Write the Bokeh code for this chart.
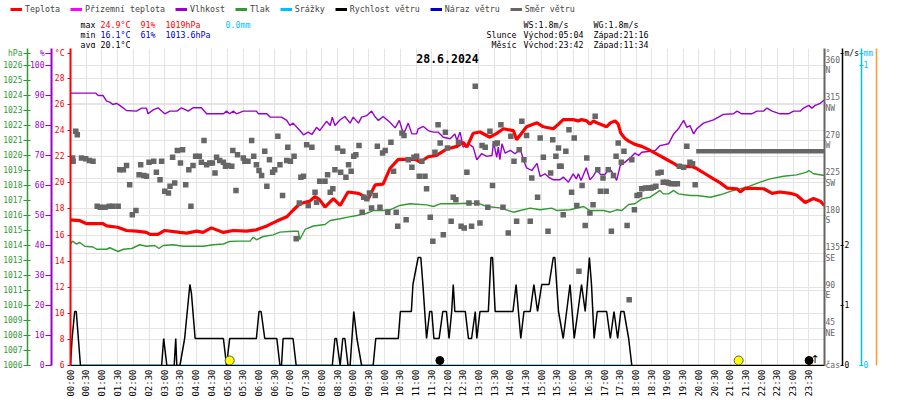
import math
from bokeh.plotting import figure
from bokeh.layouts import column
from bokeh.models import Range1d, LinearAxis, FixedTicker, Label, Legend, LegendItem, Grid
from bokeh.core.properties import value
from bokeh.embed import file_html
from bokeh.resources import INLINE

# ---------------- data (time in minutes since 00:00) ----------------
temp_t = [0,18,31,62,69,90,107,126,145,152,167,180,209,222,241,253,269,292,311,336,
          355,375,394,413,425,438,457,467,476,486,502,515,530,550,569,582,597,610,626,658,
          668,683,699,719,738,750,757,769,782,801,814,827,846,852,871,891,903,922,932,941,
          960,970,976,986,992,999,1005,1018,1024,1031,1040,1046,1051,1059,1066,1078,1091,1104,1120,1136,
          1152,1161,1187,1196,1212,1228,1241,1254,1273,1279,1289,1324,1340,1355,1375,1387,1403,1419,1432,1440]
temp_v = [17.17,17.1,16.87,16.87,16.7,16.6,16.35,16.3,16.2,16.05,16.05,16.35,16.2,16.15,16.3,16.2,16.55,16.2,16.35,16.3,
          16.4,16.7,17.07,17.4,17.9,18.4,18.6,18.95,18.7,18.15,18.8,18.27,19.3,19.2,18.8,19.85,19.9,21.1,21.8,21.8,
          21.6,22.0,22.1,22.6,22.8,23.1,22.75,23.8,23.9,23.5,23.8,24.15,24.0,23.3,24.3,24.6,24.3,24.15,24.5,24.85,
          24.85,24.75,24.85,24.75,24.5,24.75,24.6,24.4,24.3,24.6,24.75,24.5,23.8,23.4,23.2,22.95,22.8,22.55,22.2,21.85,
          21.5,21.25,21.25,21.1,20.7,20.3,20.0,19.6,19.55,19.3,19.6,19.55,19.2,19.3,19.2,19.05,18.5,18.8,18.6,18.25]

hum_t = [0,48,53,62,69,75,81,88,94,107,126,136,145,148,158,167,180,190,203,212,
         225,234,250,260,292,298,304,311,317,330,355,359,375,381,403,413,419,425,435,445,
         454,461,470,476,489,496,500,505,515,524,534,540,550,556,566,575,582,588,597,610,
         620,628,636,645,652,661,664,674,683,693,702,712,725,734,738,744,750,760,769,776,
         785,795,805,808,814,817,820,824,830,840,849,859,865,871,881,891,897,906,913,922,
         935,941,951,960,966,970,975,985,992,999,1005,1012,1021,1029,1037,1043,1050,1059,1069,1078,
         1085,1091,1107,1117,1126,1142,1152,1161,1171,1177,1183,1190,1196,1209,1228,1247,1266,1273,1282,1301,
         1311,1324,1330,1340,1355,1371,1381,1394,1400,1410,1416,1422,1432,1440]
hum_v = [90.8,90.8,90,90,88.1,87.8,87,87.4,86.7,85,84.8,85.8,85.8,83.9,85.2,85.9,83.9,84.8,84.8,85.9,
         84.8,85.9,85.9,83.9,83.9,84.8,83.9,84.8,83.9,84.8,84.8,83.9,83.9,82.8,82.8,81.7,80,80.8,78.9,76.9,
         77.8,77,79.4,78.3,81.4,80,82.8,80,81.9,83,80.8,82.8,80.8,82.8,83.3,84.8,82.8,81.7,83,81.1,
         79.2,81.7,77,80.8,77.2,77.2,78.9,79.7,78.3,77.8,77.8,76.1,75.6,77.2,75,77.8,72.8,73.9,72.8,68.6,
         70.6,69.7,70,74.4,69.4,72.8,68.6,73.9,70.8,71.7,70.6,72.2,68.6,65.9,65,67.4,63,63.9,62.8,61.9,
         61.9,62.8,61.1,63.9,62.2,63.9,61.7,65.9,61.9,63.3,65.2,63.7,63.7,65.9,63.7,61.7,66.7,67.8,69.2,70.8,
         70,71.1,71.4,71.7,73.3,73.9,77.2,78.9,81.7,79.4,80,77.2,78.9,80.8,81.9,83.7,83.9,84.8,83.9,83.9,
         84.8,84.8,85.8,84.8,83.9,83.9,84.8,84.8,85.8,86.7,85.8,86.7,87.4,88.6]

pres_t = [0,4,11,18,27,43,50,69,75,91,101,117,132,145,161,169,177,196,215,234,
          253,273,292,304,320,343,349,355,368,387,400,425,435,438,448,464,486,496,515,530,
          547,566,578,597,610,629,648,680,693,706,738,757,782,795,820,846,859,878,897,919,
          929,954,980,992,1018,1031,1043,1053,1066,1078,1091,1107,1126,1132,1142,1152,1161,1183,1196,1222,
          1241,1266,1292,1317,1336,1362,1387,1406,1410,1419,1440]
pres_v = [1014.1,1014.29,1014.1,1014.2,1013.95,1013.9,1013.75,1013.75,1013.85,1013.6,1013.75,1013.8,1014.05,1013.95,1014.0,1013.8,1014.0,1014.05,1013.95,1013.95,
          1013.95,1014.05,1014.1,1014.27,1014.29,1014.29,1014.55,1014.38,1014.6,1014.71,1014.89,1014.95,1014.95,1014.4,1015.07,1015.3,1015.4,1015.67,1015.78,1015.89,
          1016.0,1016.15,1016.33,1016.33,1016.38,1016.67,1016.78,1016.71,1016.6,1016.78,1016.78,1016.82,1016.78,1016.6,1016.51,1016.22,1016.33,1016.49,1016.38,1016.49,
          1016.33,1016.38,1016.6,1016.33,1016.33,1016.22,1016.38,1016.33,1016.73,1016.78,1017.11,1017.22,1017.67,1017.44,1017.44,1017.67,1017.44,1017.33,1017.33,1017.22,
          1017.38,1017.67,1017.89,1018.22,1018.44,1018.62,1018.71,1018.89,1019.0,1018.78,1018.67]

ws_t = [0,3,8,11,15,19,174,178,184,198,201,203,209,218,228,231,238,292,298,304,
        355,360,364,371,394,400,403,406,425,431,500,505,508,515,520,524,530,534,541,547,
        556,578,583,626,630,651,654,664,669,673,680,686,690,694,704,711,718,723,728,731,
        734,754,760,766,773,776,782,798,803,806,811,845,851,860,866,878,885,892,900,914,
        922,925,932,941,954,962,976,983,991,995,1000,1006,1024,1031,1038,1045,1051,1057,1066,1072,1440]
ws_v = [0,0.45,0.9,0.9,0.45,0,0,0.45,0,0,0.45,0,0,0.45,1.35,1.2,0.45,0.45,0,0.45,
        0.45,0.9,0.9,0.45,0.45,0,0,0.45,0.45,0,0,0.45,0.45,0,0.45,0.45,0,0,0.9,0.45,
        0,0,0.45,0.45,0.9,0.9,1.35,1.8,1.8,1.35,0.45,0.9,0.9,0.45,0.45,0.9,0.9,0.45,0.9,1.35,
        0.9,0.9,0.45,0.45,0.9,0.45,0.9,0.9,1.8,1.8,0.9,0.9,1.35,0.45,0.9,0.9,1.35,0.9,1.35,1.35,
        1.8,1.8,0.9,0.45,1.35,0.45,1.35,0.9,1.8,1.35,0.45,0.9,0.9,0.45,0.9,0.45,0.9,0.9,0.45,0,0]

dir_t = [4,5,10,13,21,29,36,43,51,57,66,74,81,91,94,101,107,113,118,125,
         131,134,140,145,150,159,164,171,174,180,187,190,195,199,204,210,214,220,226,230,
         234,239,246,250,255,260,266,271,276,279,285,292,296,301,308,310,316,319,330,333,
         339,346,350,355,360,365,371,375,380,386,390,396,400,405,413,415,420,427,431,437,
         440,445,451,454,461,467,470,476,
         486,491,496,501,505,510,516,520,526,531,536,541,545,551,557,560,566,571,575,582,
         586,591,596,601,606,612,617,622,625,633,637,641,645,652,656,661,666,671,677,680,
         687,692,696,702,706,712,716,720,727,731,736,741,746,752,757,761,766,773,776,782,
         786,792,797,801,806,811,815,822,826,836,841,847,852,857,862,866,871,878,881,892,
         897,903,912,917,921,927,932,934,
         937,941,946,952,957,962,967,971,977,983,986,992,998,1002,1007,1012,1017,1023,1027,1033,
         1037,1042,1046,1052,1057,1063,1067,1072,1077,1082,1087,1091,1098,1104,1109,1113,1118,1122,1128,1132,
         1138,1142,1147,1153,1159,1163,1171,1177,1183,1188,1193]
dir_v = [249,245,281,277,249,248,246,245,191,190,190,191,191,191,235,235,240,217,181,186,
         229,241,228,227,244,245,232,223,245,209,207,215,250,219,258,243,259,217,235,191,
         240,251,251,244,270,241,243,243,231,250,246,244,239,240,239,258,210,253,249,245,
         245,270,251,241,234,228,257,215,247,232,235,275,241,204,246,262,245,251,152,195,
         226,227,265,192,262,208,196,221,
         221,229,208,212,235,261,232,257,226,241,233,251,253,264,184,202,200,207,189,204,
         263,190,255,258,184,268,233,184,167,279,276,175,247,238,250,251,227,245,227,212,
         178,149,256,289,267,157,280,261,173,202,199,268,167,165,232,195,167,335,195,171,
         264,262,190,281,216,266,267,289,190,159,275,245,173,259,293,247,276,173,225,202,
         273,250,161,231,271,251,261,239,
         239,181,257,283,208,273,192,113,216,168,249,183,193,299,235,209,225,209,235,161,
         228,251,267,244,257,168,79,247,187,204,205,212,213,213,213,214,215,231,232,220,
         220,219,218,218,218,239,238,263,244,242,217]

calm_t = [1195, 1440]          # constant direction while calm
calm_v = [257, 257]
rain_t = [0, 1072]
rain_v = [0.0, 0.0]
sun_t = [304, 1276]            # sunrise 05:04, sunset 21:16
moonset_t = [694]              # 11:34
moonrise_t = [1422]            # 23:42

temp_ticks = [6, 8, 10, 12, 14, 16, 18, 20, 22, 24, 26, 28]
hum_ticks = [0, 10, 20, 30, 40, 50, 60, 70, 80, 90, 100]
pres_ticks = [1006, 1007, 1008, 1009, 1010, 1011, 1012, 1013, 1014, 1015, 1016,
              1017, 1018, 1019, 1020, 1021, 1022, 1023, 1024, 1025, 1026]
dir_ticks = [45, 90, 135, 180, 225, 270, 315, 360]
dir_labels = ["45\nNE", "90\n E", "135\nSE", "180\n S", "225\nSW", "270\n W", "315\nNW", "360\n N"]
wind_ticks = [0, 1, 2]
rain_ticks = [0, 1]
x_ticks = list(range(0, 1440, 30))
x_labels = ["00:00","00:30","01:00","01:30","02:00","02:30","03:00","03:30","04:00","04:30",
            "05:00","05:30","06:00","06:30","07:00","07:30","08:00","08:30","09:00","09:30",
            "10:00","10:30","11:00","11:30","12:00","12:30","13:00","13:30","14:00","14:30",
            "15:00","15:30","16:00","16:30","17:00","17:30","18:00","18:30","19:00","19:30",
            "20:00","20:30","21:00","21:30","22:00","22:30","23:00","23:30"]

legend_names = ["Teplota", "Přízemní teplota", "Vlhkost", "Tlak", "Srážky",
                "Rychlost větru", "Náraz větru", "Směr větru"]
legend_colors = ["#ff0000", "#ff00ff", "#9900cc", "#339933", "#00bfff",
                 "#000000", "#0000cc", "#666666"]

MONO = "DejaVu Sans Mono"
NAN = float("nan")

# ================= header strip (legend + statistics) =================
HH = 48
header = figure(width=900, height=HH, output_backend="svg", toolbar_location=None,
                x_range=Range1d(0, 900), y_range=Range1d(HH, 0),
                x_axis_type=None, y_axis_type=None,
                min_border_left=0, min_border_right=0, min_border_top=0, min_border_bottom=0)
header.frame_align = False
header.outline_line_color = None
header.background_fill_color = "white"
header.border_fill_color = "white"

items = []
for name, col in zip(legend_names, legend_colors):
    r = header.line(x=[NAN], y=[NAN], line_color=col, line_width=3)   # legend proxy only
    items.append(LegendItem(label=name, renderers=[r]))
legend = Legend(items=items, orientation="horizontal", location=(10, HH - 9 - 5),
                glyph_width=12, glyph_height=10, label_standoff=3, spacing=10, padding=0, margin=0,
                border_line_color=None, background_fill_alpha=0, label_width=0, label_height=10,
                label_text_font=MONO, label_text_font_size="8.3px")
header.add_layout(legend)

def htext(txt, x, y, color="#000000"):
    header.add_layout(Label(x=x, y=y, text=txt, text_color=color, text_font=MONO,
                            text_font_size="8.3px", text_baseline="middle", text_align="left"))

htext("max", 80, 24); htext("24.9°C", 100, 24, "#ff0000"); htext("91%", 140, 24, "#ff0000")
htext("1019hPa", 165, 24, "#ff0000"); htext("0.0mm", 225, 24, "#00bfff")
htext("min", 80, 34); htext("16.1°C", 100, 34, "#0000cc"); htext("61%", 140, 34, "#0000cc")
htext("1013.6hPa", 165, 34, "#0000cc")
htext("avg", 80, 44); htext("20.1°C", 100, 44)
htext("WS:1.8m/s", 523, 24); htext("WG:1.8m/s", 593, 24)
htext("Slunce", 486, 34); htext("Východ:05:04", 523, 34); htext("Západ:21:16", 593, 34)
htext("Měsíc", 491, 44); htext("Východ:23:42", 523, 44); htext("Západ:11:34", 593, 44)

# ================= main chart =================
W, H = 900, 400 - HH
FL, FR, FT, FB = 70, 76, 0, 35
FW = W - FL - FR
FH = H - FT - FB          # 317 px
T_PX = 13.045             # px per degC

p = figure(width=W, height=H, output_backend="svg", toolbar_location=None,
           x_range=Range1d(0, 1440), y_range=Range1d(6, 6 + FH / T_PX),
           min_border_left=FL, min_border_right=FR, min_border_top=FT, min_border_bottom=FB)
p.frame_align = False
p.outline_line_color = None
p.background_fill_color = "white"
p.border_fill_color = "white"
p.extra_y_ranges = {
    "hum": Range1d(0, FH / 3.0),
    "pres": Range1d(1006, 1006 + FH / 15.0),
    "dir": Range1d(0, FH * 1.2),
    "wind": Range1d(0, FH / 60.0),
    "rain": Range1d(0, FH / 300.0),
}

# value on each scale at the row of the axis titles (5 px below the frame top)
TITLE_DY = FH - 5
t_title = 6 + TITLE_DY / T_PX
h_title = TITLE_DY / 3.0
p_title = 1006 + TITLE_DY / 15.0
d_title = TITLE_DY * 1.2
w_title = TITLE_DY / 60.0
r_title = TITLE_DY / 300.0

GRID = "#e4e4e4"

def style_axis(ax, color, ticks, labels=None, tick_out=3, tick_in=0, standoff=2,
               font_size="8px", line_width=1.5):
    ax.ticker = FixedTicker(ticks=ticks, minor_ticks=[])
    ax.axis_line_color = color
    ax.axis_line_width = line_width
    ax.major_tick_line_color = color
    ax.major_tick_out = tick_out
    ax.major_tick_in = tick_in
    ax.minor_tick_line_color = None
    ax.major_label_text_color = color
    ax.major_label_text_font = MONO
    ax.major_label_text_font_size = font_size
    ax.major_label_standoff = standoff
    if labels is not None:
        ax.major_label_overrides = dict(zip(ticks, labels))

# x axis
xa = p.xaxis[0]
style_axis(xa, "#000000", x_ticks, x_labels, tick_out=0, standoff=4, font_size="9px", line_width=1)
xa.major_label_orientation = math.pi / 2
p.xgrid.grid_line_color = GRID

# left axes: temperature (inner), humidity, pressure (outer)
ta = p.yaxis[0]
style_axis(ta, "#ff0000", temp_ticks + [t_title], [str(v) for v in temp_ticks] + ["°C"],
           tick_out=3, standoff=3, line_width=2)
p.ygrid.ticker = FixedTicker(ticks=temp_ticks)
p.ygrid.grid_line_color = GRID

ha = LinearAxis(y_range_name="hum")
style_axis(ha, "#9900cc", hum_ticks + [h_title], [str(v) for v in hum_ticks] + ["%"],
           tick_out=6, standoff=1, line_width=2)
p.add_layout(ha, "left")

pa = LinearAxis(y_range_name="pres")
style_axis(pa, "#339933", pres_ticks + [p_title], [str(v) for v in pres_ticks] + ["hPa"],
           tick_out=4, tick_in=3, standoff=1, line_width=1.5)
p.add_layout(pa, "left")

# right axes: direction, wind speed, rain, (orange)
da = LinearAxis(y_range_name="dir")
style_axis(da, "#666666", [0] + dir_ticks + [d_title], ["čas"] + dir_labels + ["°"],
           tick_out=1, standoff=0, line_width=2)
p.add_layout(da, "right")

wa = LinearAxis(y_range_name="wind")
style_axis(wa, "#000000", wind_ticks + [w_title], [str(v) for v in wind_ticks] + ["m/s"],
           tick_out=1, tick_in=2, standoff=1)
p.add_layout(wa, "right")

ra = LinearAxis(y_range_name="rain")
style_axis(ra, "#00bfff", rain_ticks + [r_title], [str(v) for v in rain_ticks] + ["mm"],
           tick_out=2, tick_in=2, standoff=0)
p.add_layout(ra, "right")

oa = LinearAxis(y_range_name="rain")
style_axis(oa, "#ff9933", [], tick_out=0, standoff=0)
p.add_layout(oa, "right")

p.add_layout(Grid(dimension=1, ticker=FixedTicker(ticks=dir_ticks), y_range_name="dir",
                  grid_line_color=GRID))

# ---------------- series ----------------
p.line(rain_t, rain_v, y_range_name="rain", line_color="#00bfff", line_width=2)
p.line(pres_t, pres_v, y_range_name="pres", line_color="#339933", line_width=1.4)
p.line(hum_t, hum_v, y_range_name="hum", line_color="#9900cc", line_width=1.4)
p.line(temp_t, temp_v, line_color="#ff0000", line_width=3.2)
p.line(ws_t, ws_v, y_range_name="wind", line_color="#000000", line_width=1.5)
p.scatter(dir_t, dir_v, y_range_name="dir", marker="square", size=5.5,
          fill_color="#666666", line_color=None)
p.line(calm_t, calm_v, y_range_name="dir", line_color="#666666", line_width=4.5, line_cap="butt")

mark_y = 5 / 60.0   # 5 px above the base line (wind scale)
moon_dx = 6 * 1440.0 / FW
p.scatter(sun_t, [mark_y] * len(sun_t), y_range_name="wind", marker="circle", size=9,
          fill_color="#ffff00", line_color="#555555", line_width=1)
p.scatter([t + moon_dx for t in moonset_t], [mark_y] * len(moonset_t), y_range_name="wind",
          marker="circle", size=8, fill_color="#000000", line_color="#000000")
p.scatter([t - moon_dx for t in moonrise_t], [mark_y] * len(moonrise_t), y_range_name="wind",
          marker="circle", size=8, fill_color="#000000", line_color="#000000")
p.text(moonrise_t, [0] * len(moonrise_t), text=["↑"] * len(moonrise_t), y_range_name="wind",
       text_font=value("DejaVu Sans"), text_font_size="11px", text_align="center",
       text_baseline="bottom", text_color="#000000")

# date title (inside the frame, 10 px below its top)
p.add_layout(Label(x=720, y=6 + (FH - 10) / T_PX, text="28.6.2024", text_color="#000000",
                   text_font=MONO, text_font_size="11.5px", text_font_style="bold",
                   text_align="center", text_baseline="middle"))

layout = column(header, p, spacing=0)
open("out.html", "w").write(file_html(layout, INLINE))
